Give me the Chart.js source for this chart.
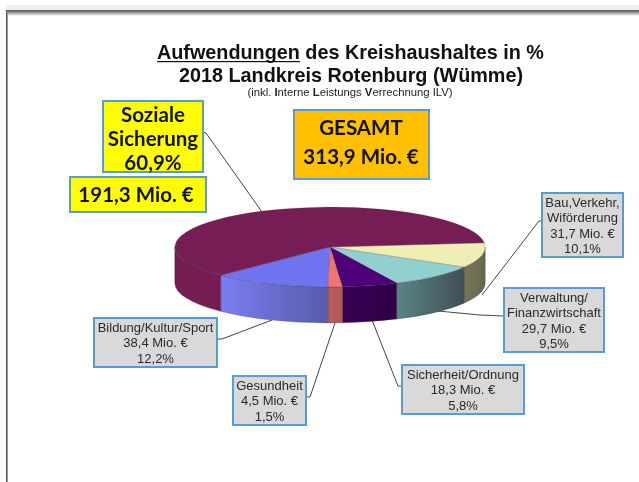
<!DOCTYPE html>
<html lang="de"><head><meta charset="utf-8">
<style>
html,body{margin:0;padding:0;background:#fff;width:639px;height:482px;overflow:hidden}
canvas{position:absolute;left:0;top:0}
</style>
<script src="https://cdn.jsdelivr.net/npm/chart.js@4"></script>
</head><body>
<canvas id="c" width="639" height="482"></canvas>
<script>
const categories = ["Bau,Verkehr,\nWiförderung","Verwaltung/\nFinanzwirtschaft","Sicherheit/Ordnung","Gesundheit","Bildung/Kultur/Sport","Soziale\nSicherung"];
const shares = [10.1,9.5,5.8,1.5,12.2,60.9];
const millions = ["31,7","29,7","18,3","4,5","38,4","191,3"];
const titleLines = ["Aufwendungen"," des Kreishaushaltes in %","2018 Landkreis Rotenburg (Wümme)"];
const subtitleRuns = [["(inkl. ",0],["I",1],["nterne ",0],["L",1],["eistungs ",0],["V",1],["errechnung ILV)",0]];
const totalLines = ["GESAMT","313,9 Mio. €"];
const topColors = ["#efeeb4","#92d0cf","#4d0078","#ee7470","#7074f0","#761d55"];
const wallLeft = ["#76775a","#5a8585","#3a0055","#b55f5c","#7a7ef2","#741c53"];
const wallRight = ["#66674c","#3f5057","#2c0044","#b05a58","#585cab","#741c53"];

const SQUASH = 40/155.5, DEPTH = 36, FONT = '"Liberation Sans",Arial,sans-serif', CAL = 'Lato,"Open Sans",sans-serif';
const fmtPct = v => String(v).replace('.',',') + '%';

function box(ctx,x,y,w,h,fill,border,lw){
  ctx.fillStyle=fill;ctx.fillRect(x,y,w,h);
  ctx.strokeStyle=border;ctx.lineWidth=lw;ctx.strokeRect(x,y,w,h);
}
function lines(ctx,arr,cx,startY,lh,font,col){
  ctx.font=font;ctx.fillStyle=col;ctx.textAlign='center';ctx.textBaseline='alphabetic';
  arr.forEach((t,i)=>ctx.fillText(t,cx,startY+i*lh));
}
function poly(ctx,pts){
  ctx.strokeStyle='#444';ctx.lineWidth=1;ctx.beginPath();
  pts.forEach((p,i)=>i?ctx.lineTo(p[0],p[1]):ctx.moveTo(p[0],p[1]));ctx.stroke();
}

const scene = {
  id:'scene',
  beforeDraw(chart){
    const ctx=chart.ctx;ctx.save();
    ctx.fillStyle='#fff';ctx.fillRect(0,0,639,482);
    ctx.fillStyle='#eeeeee';ctx.fillRect(6,5,633,5);
    const g=ctx.createLinearGradient(0,10,0,16);
    g.addColorStop(0,'#555');g.addColorStop(.35,'#888');g.addColorStop(1,'#fff');
    ctx.fillStyle=g;ctx.fillRect(6,10,633,6);
    ctx.fillStyle='#555';ctx.fillRect(6,10,1,472);
    ctx.fillStyle='#999';ctx.fillRect(7,11,1,471);
    ctx.restore();
  },
  beforeDatasetsDraw(chart){
    const ctx=chart.ctx, arcs=chart.getDatasetMeta(0).data, a0=arcs[0];
    const cx=a0.x, cy=a0.y, R=a0.outerRadius, ry=R*SQUASH;
    ctx.save();
    // leader lines sit behind the pie
    poly(ctx,[[203,132],[206,133],[262,212]]);
    poly(ctx,[[482,295],[539,221],[542,221]]);
    poly(ctx,[[438,311],[480,315],[503,316]]);
    poly(ctx,[[372,320],[398,386],[402,386]]);
    poly(ctx,[[336,320],[310,397],[306,397]]);
    poly(ctx,[[272,320],[222,339],[217,339]]);
    ctx.restore();
    // side walls
    ctx.save();
    arcs.forEach((arc,i)=>{
      const s=Math.max(arc.startAngle,0), e=Math.min(arc.endAngle,Math.PI);
      const segs=[];
      if(e>s) segs.push([s,e]);
      const s2=Math.max(arc.startAngle-2*Math.PI,0), e2=Math.min(arc.endAngle-2*Math.PI,Math.PI);
      if(e2>s2) segs.push([s2,e2]);
      segs.forEach(([t1,t2])=>{
        const x1=cx+R*Math.cos(t2), x2=cx+R*Math.cos(t1);
        const g=ctx.createLinearGradient(x1,0,x2,0);
        g.addColorStop(0,wallLeft[i]);g.addColorStop(1,wallRight[i]);
        ctx.fillStyle=g;
        ctx.beginPath();
        ctx.ellipse(cx,cy,R,ry,0,t1,t2,false);
        ctx.ellipse(cx,cy+DEPTH,R,ry,0,t2,t1,true);
        ctx.closePath();ctx.fill();
        ctx.strokeStyle='rgba(40,30,50,.45)';ctx.lineWidth=.6;ctx.stroke();
      });
    });
    ctx.restore();
    // squash the pie the library draws
    ctx.save();
    ctx.translate(cx,cy);ctx.scale(1,SQUASH);ctx.translate(-cx,-cy);
  },
  afterDatasetsDraw(chart){
    chart.ctx.restore();
    const ctx=chart.ctx;
    ctx.save();
    // title
    ctx.font='bold 19.8px '+FONT;ctx.textAlign='left';ctx.textBaseline='alphabetic';ctx.fillStyle='#111';
    ctx.fillText(titleLines[0],157,59);
    const w=ctx.measureText(titleLines[0]).width;
    ctx.fillRect(157,61,w,1.2);
    ctx.fillText(titleLines[1],157+w,59);
    lines(ctx,[titleLines[2]],351,82,0,'bold 19.8px '+FONT,'#111');
    // subtitle
    const subW=subtitleRuns.reduce((acc,[t,b])=>{ctx.font=(b?'bold ':'')+'11.3px '+FONT;return acc+ctx.measureText(t).width;},0);
    let sx=350-subW/2;ctx.textAlign='left';ctx.fillStyle='#222';
    subtitleRuns.forEach(([t,b])=>{ctx.font=(b?'bold ':'')+'11.3px '+FONT;ctx.fillText(t,sx,96);sx+=ctx.measureText(t).width;});
    // big boxes
    box(ctx,103,101,100,71,'#ffff00','#5b9bd5',2);
    lines(ctx,categories[5].split('\n').concat(fmtPct(shares[5])),153,122,24,'bold 20.5px '+CAL,'#111');
    box(ctx,70,177,136,35,'#ffff00','#5b9bd5',2);
    lines(ctx,[millions[5]+' Mio. €'],136,202,0,'bold 20.5px '+CAL,'#111');
    box(ctx,294,110,135,69,'#ffc000','#5b9bd5',2);
    lines(ctx,totalLines,361,135,29,'bold 20.5px '+CAL,'#111');
    // callouts
    const call=(i,x,y,w,h,y0)=>{
      box(ctx,x,y,w,h,'#d9d9d9','#5b9bd5',2);
      lines(ctx,categories[i].split('\n').concat(millions[i]+' Mio. €',fmtPct(shares[i])),x+w/2,y0,15.3,'13px '+FONT,'#2a2a2a');
    };
    call(0,542,193,81,64,207);
    call(1,504,288,100,64,302);
    call(2,402,365,122,49,379);
    call(3,233,376,73,49,390);
    call(4,94,318,123,49,332);
    ctx.restore();
  }
};
new Chart(document.getElementById('c'),{
  type:'pie',
  data:{labels:categories,datasets:[{data:shares,backgroundColor:topColors,borderColor:'rgba(50,40,60,.55)',borderWidth:.6,offset:0,hoverOffset:0}]},
  options:{
    responsive:false,animation:false,rotation:84,
    layout:{padding:{left:174.5,right:153.5,top:91.5,bottom:79.5}},
    plugins:{legend:{display:false},tooltip:{enabled:false},title:{display:false}}
  },
  plugins:[scene]
});
</script></body></html>
